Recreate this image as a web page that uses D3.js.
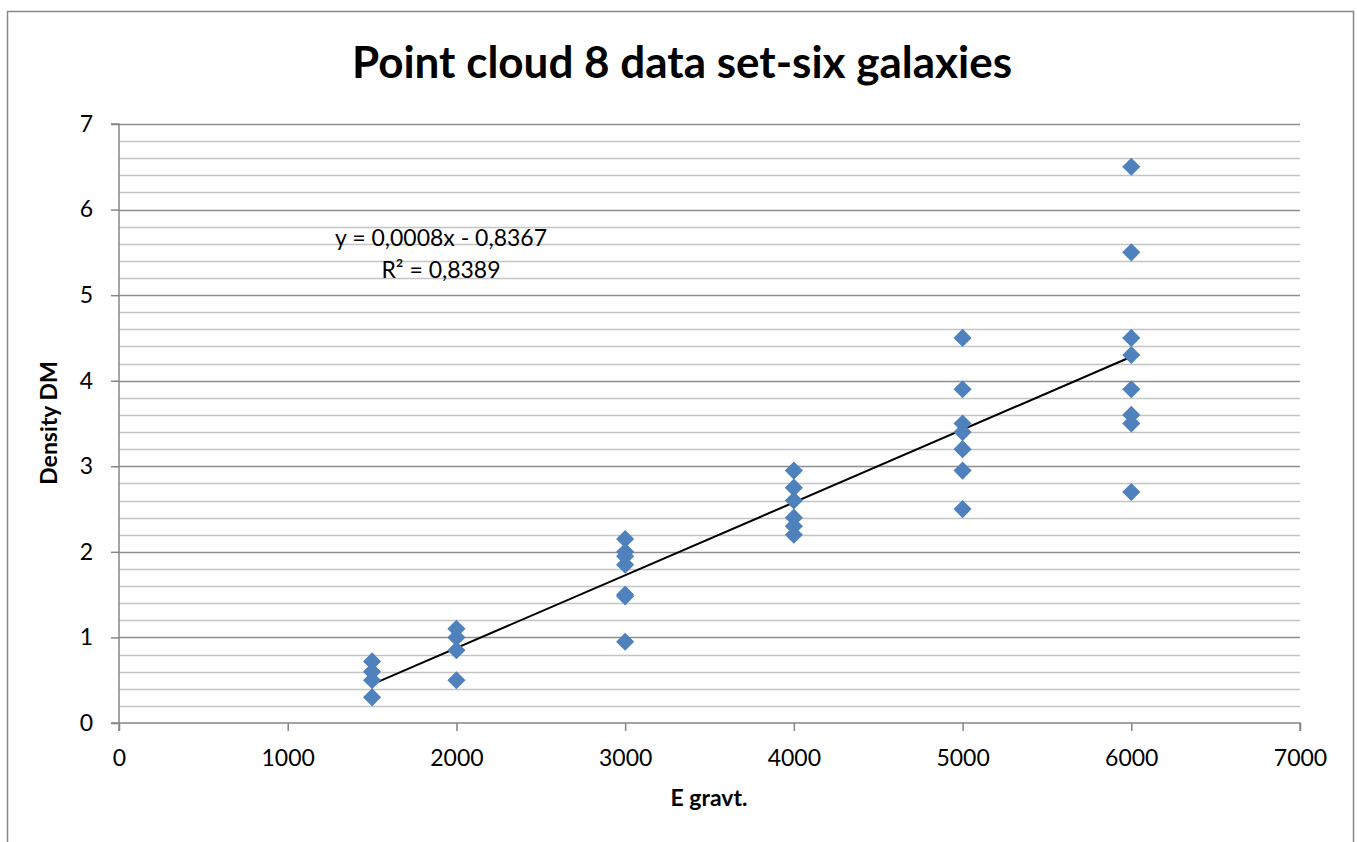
<!DOCTYPE html>
<html>
<head>
<meta charset="utf-8">
<script src="https://cdn.jsdelivr.net/npm/d3@7/dist/d3.min.js"></script>
<style>
  html, body { margin: 0; padding: 0; background: #fff; }
  svg { display: block; font-family: Lato, "Liberation Sans", sans-serif; }
</style>
</head>
<body>
<svg id="chart" width="1357" height="842"></svg>
<script>
// ---- data ----
const title = "Point cloud 8 data set-six galaxies";
const xLabel = "E gravt.";
const yLabel = "Density DM";
const xTicks = [0, 1000, 2000, 3000, 4000, 5000, 6000, 7000];
const yTicks = [0, 1, 2, 3, 4, 5, 6, 7];
const eGravt = [1500, 1500, 1500, 1500,
                2000, 2000, 2000, 2000,
                3000, 3000, 3000, 3000, 3000, 3000, 3000,
                4000, 4000, 4000, 4000, 4000, 4000,
                5000, 5000, 5000, 5000, 5000, 5000, 5000,
                6000, 6000, 6000, 6000, 6000, 6000, 6000, 6000];
const densityDM = [0.72, 0.6, 0.5, 0.3,
                   1.1, 1.0, 0.85, 0.5,
                   2.15, 2.0, 1.95, 1.85, 1.5, 1.48, 0.95,
                   2.95, 2.75, 2.6, 2.4, 2.3, 2.2,
                   4.5, 3.9, 3.5, 3.4, 3.2, 2.95, 2.5,
                   6.5, 5.5, 4.5, 4.3, 3.9, 3.6, 3.5, 2.7];
const trendLabel = ["y = 0,0008x - 0,8367", "R² = 0,8389"];

// ---- layout ----
const svg = d3.select("#chart");
const pL = 119, pR = 1300, pT = 124, pB = 723;
const x = d3.scaleLinear().domain([0, 7000]).range([pL, pR]);
const y = d3.scaleLinear().domain([0, 7]).range([pB, pT]);
const FS = "23px";

// outer border
svg.append("rect").attr("x", 7.5).attr("y", 11.5).attr("width", 1346).attr("height", 840)
  .attr("fill", "#fff").attr("stroke", "#898989").attr("stroke-width", 1.5);

// minor gridlines
const minor = d3.range(0, 7.0001, 0.2).filter(v => Math.abs(v - Math.round(v)) > 1e-6);
svg.append("g").selectAll("line").data(minor).join("line")
  .attr("x1", pL).attr("x2", pR)
  .attr("y1", d => Math.round(y(d)) + 0.5).attr("y2", d => Math.round(y(d)) + 0.5)
  .attr("stroke", "#c4c4c4").attr("stroke-width", 1.5);

// major gridlines
svg.append("g").selectAll("line").data(yTicks.filter(d => d > 0)).join("line")
  .attr("x1", pL).attr("x2", pR)
  .attr("y1", d => Math.round(y(d)) + 0.5).attr("y2", d => Math.round(y(d)) + 0.5)
  .attr("stroke", "#8e8e8e").attr("stroke-width", 1.5);

// axes
const yAxis = d3.axisLeft(y).tickValues(yTicks).tickSize(8).tickPadding(18).tickFormat(d3.format("d"));
const xAxis = d3.axisBottom(x).tickValues(xTicks).tickSize(8).tickPadding(19).tickFormat(d3.format("d"));
const gy = svg.append("g").attr("transform", `translate(${pL},0)`).call(yAxis);
const gx = svg.append("g").attr("transform", `translate(0,${pB})`).call(xAxis);
[gx, gy].forEach(g => {
  g.select(".domain").attr("stroke", "#868686").attr("stroke-width", 1.5);
  g.selectAll(".tick line").attr("stroke", "#868686").attr("stroke-width", 1.5);
  g.selectAll(".tick text").attr("fill", "#000").style("font-size", FS)
    .style("font-family", "Lato, 'Liberation Sans', sans-serif");
});
gy.select(".domain").attr("d", `M-8,${pT}H0V${pB}H-8`);
gx.select(".domain").attr("d", `M${pL},8V0H${pR}V8`);

// trendline from least squares fit
const n = eGravt.length;
const mx = d3.mean(eGravt), my = d3.mean(densityDM);
let sxy = 0, sxx = 0;
for (let i = 0; i < n; i++) { sxy += (eGravt[i] - mx) * (densityDM[i] - my); sxx += (eGravt[i] - mx) ** 2; }
const slope = sxy / sxx, intercept = my - slope * mx;
const xMin = d3.min(eGravt), xMax = d3.max(eGravt);
svg.append("line")
  .attr("x1", x(xMin)).attr("y1", y(slope * xMin + intercept))
  .attr("x2", x(xMax)).attr("y2", y(slope * xMax + intercept))
  .attr("stroke", "#000").attr("stroke-width", 2);

// points (diamonds)
const diamond = d3.symbol().type(d3.symbolDiamond2).size(210);
svg.append("g").selectAll("path").data(eGravt.map((d, i) => [d, densityDM[i]])).join("path")
  .attr("d", diamond)
  .attr("transform", d => `translate(${x(d[0])},${y(d[1])})`)
  .attr("fill", "#4f81bd");

// trend label
svg.append("g").selectAll("text").data(trendLabel).join("text")
  .attr("x", 441).attr("y", (d, i) => 246 + i * 32)
  .attr("text-anchor", "middle").style("font-size", FS).attr("fill", "#000")
  .text(d => d);

// title
svg.append("text").attr("x", 682).attr("y", 78).attr("text-anchor", "middle")
  .style("font-size", "44px").style("font-weight", "bold").text(title);

// axis titles
svg.append("text").attr("x", 709).attr("y", 806).attr("text-anchor", "middle")
  .style("font-size", FS).style("font-weight", "bold").text(xLabel);
svg.append("text").attr("transform", "translate(57,423) rotate(-90)").attr("text-anchor", "middle")
  .style("font-size", FS).style("font-weight", "bold").text(yLabel);
</script>
</body>
</html>
